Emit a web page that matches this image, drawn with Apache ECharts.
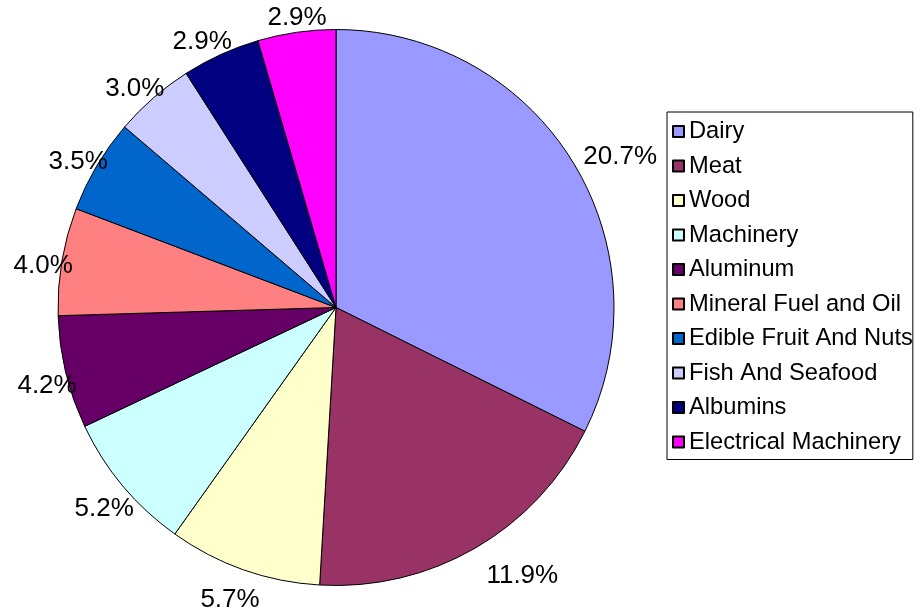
<!DOCTYPE html>
<html>
<head>
<meta charset="utf-8">
<script src="https://cdn.jsdelivr.net/npm/echarts@6/dist/echarts.min.js"></script>
<style>
html,body{margin:0;padding:0;background:#fff;}
#chart{width:922px;height:612px;}
</style>
</head>
<body>
<div id="chart"></div>
<script>
var categories = ['Dairy','Meat','Wood','Machinery','Aluminum','Mineral Fuel and Oil','Edible Fruit And Nuts','Fish And Seafood','Albumins','Electrical Machinery'];
var values = [20.7, 11.9, 5.7, 5.2, 4.2, 4.0, 3.5, 3.0, 2.9, 2.9];
var colors = ['#9999FF','#993366','#FFFFCC','#CCFFFF','#660066','#FF8080','#0066CC','#CCCCFF','#000080','#FF00FF'];

var FONT = '"Liberation Sans", Arial, sans-serif';
var chart = echarts.init(document.getElementById('chart'), null, {renderer: 'canvas'});

var data = categories.map(function (c, i) {
  return {name: c, value: values[i], itemStyle: {color: colors[i]}};
});

chart.setOption({
  animation: false,
  backgroundColor: '#ffffff',
  textStyle: {fontFamily: FONT},
  legend: {
    orient: 'vertical',
    left: 667,
    top: 112,
    padding: [7.5, 0, 5.5, 5],
    borderColor: '#000',
    borderWidth: 1,
    itemWidth: 11,
    itemHeight: 11,
    itemGap: 10.5,
    selectedMode: false,
    icon: 'rect',
    textStyle: {fontFamily: FONT, fontSize: 23.7, lineHeight: 24, color: '#000'},
    data: categories
  },
  series: [{
    type: 'pie',
    center: [336, 307.5],
    radius: [0, 278],
    startAngle: 90,
    clockwise: true,
    avoidLabelOverlap: false,
    itemStyle: {borderColor: '#000', borderWidth: 1},
    emphasis: {disabled: true},
    label: {
      show: true,
      position: 'outside',
      fontFamily: FONT,
      fontSize: 26,
      color: '#000',
      formatter: function (p) { return p.value.toFixed(1) + '%'; }
    },
    labelLine: {show: false, length: 0, length2: 0},
    labelLayout: function (p) {
      try {
        var lay = chart.getModel().getSeriesByIndex(0).getData().getItemLayout(p.dataIndex);
        var mid = (lay.startAngle + lay.endAngle) / 2;
        var c = Math.cos(mid), s = Math.sin(mid);
        var ex = lay.cx + lay.r * c, ey = lay.cy + lay.r * s;
        var w = p.labelRect.width;
        var k = Math.max(-1, Math.min(1, c * 2.5));
        return {x: ex + k * w / 2 + 11, y: ey + s * 23 + 8, align: 'center', verticalAlign: 'middle'};
      } catch (e) {
        return {};
      }
    },
    data: data
  }]
});
</script>
</body>
</html>
